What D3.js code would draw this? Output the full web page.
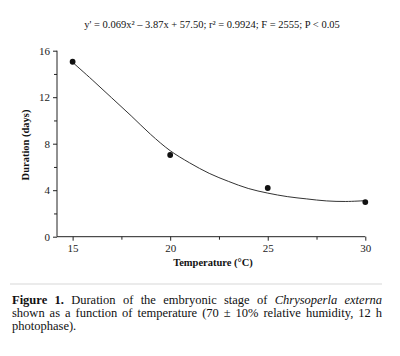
<!DOCTYPE html>
<html><head><meta charset="utf-8">
<script src="https://cdn.jsdelivr.net/npm/d3@7"></script>
<style>
html,body{margin:0;padding:0;background:#fff;}
svg{display:block;}
svg text{font-family:"Liberation Serif","Times New Roman",serif;}
</style></head>
<body>
<svg id="chart" width="400" height="356"></svg>
<script>
// Observed data
const temperatures = [15, 20, 25, 30];
const durations = [15.05, 7.03, 4.19, 2.98];
// Fitted curve
const curveTemps = [15, 16, 17, 18, 19, 20, 21, 22, 23, 24, 25, 26, 27, 28, 29, 30];
const curveValues = [15.0, 13.5, 11.95, 10.4, 8.8, 7.4, 6.35, 5.45, 4.75, 4.15, 3.75, 3.45, 3.25, 3.08, 3.03, 3.1];
const xTicks = [15, 20, 25, 30];
const xMinorTicks = [17.5, 22.5, 27.5];
const yTicks = [0, 4, 8, 12, 16];
const yMinorTicks = [2, 6, 10, 14];
const equationText = "y' = 0.069x\u00B2 \u2013 3.87x + 57.50; r\u00B2 = 0.9924; F = 2555; P < 0.05";
const xLabel = "Temperature (\u00B0C)";
const yLabel = "Duration (days)";

const svg = d3.select("#chart");
const x = d3.scaleLinear().domain([14.2, 30]).range([57, 365.3]);
const y = d3.scaleLinear().domain([0, 16]).range([236.7, 50.7]);

// equation
svg.append("text").attr("x", 212).attr("y", 27.5).attr("text-anchor", "middle")
  .attr("font-size", 10.5).attr("fill", "#111").text(equationText);

// axes
const gx = svg.append("g").attr("transform", `translate(0,${y(0)})`);
gx.call(d3.axisBottom(x).tickValues(xTicks).tickSize(4).tickPadding(4).tickFormat(d3.format("d")));
gx.append("g").call(d3.axisBottom(x).tickValues(xMinorTicks).tickSize(3).tickFormat(""))
  .select(".domain").remove();
const gy = svg.append("g").attr("transform", `translate(${x.range()[0]},0)`);
gy.call(d3.axisLeft(y).tickValues(yTicks).tickSize(4).tickPadding(3).tickFormat(d3.format("d")));
gy.append("g").call(d3.axisLeft(y).tickValues(yMinorTicks).tickSize(3).tickFormat(""))
  .select(".domain").remove();
gx.select(".domain").attr("d", `M${x.range()[0]},0H${x.range()[1]}`);
gy.select(".domain").attr("d", `M0,${y(0)}V${y(16)}`);
svg.selectAll("g").attr("font-family", null);
svg.selectAll(".tick text").style("font-family", "'Liberation Serif', serif").attr("font-size", 11).attr("fill", "#222");
svg.selectAll(".domain, .tick line").attr("stroke", "#222");

// labels
svg.append("text").attr("x", 213).attr("y", 266).attr("text-anchor", "middle")
  .attr("font-size", 10.5).attr("font-weight", "bold").attr("fill", "#111").text(xLabel);
svg.append("text").attr("transform", "translate(28.5,145) rotate(-90)").attr("text-anchor", "middle")
  .attr("font-size", 10.5).attr("font-weight", "bold").attr("fill", "#111").text(yLabel);

// fitted curve
const pts = curveTemps.map((t, i) => [t, curveValues[i]]);
svg.append("path").datum(pts)
  .attr("d", d3.line().x(d => x(d[0])).y(d => y(d[1])).curve(d3.curveCatmullRom))
  .attr("fill", "none").attr("stroke", "#333").attr("stroke-width", 1);

// points
svg.selectAll("circle.pt").data(temperatures).join("circle").attr("class", "pt")
  .attr("cx", d => x(d)).attr("cy", (d, i) => y(durations[i])).attr("r", 2.9).attr("fill", "#111");

// separator
svg.append("line").attr("x1", 10).attr("x2", 382).attr("y1", 284).attr("y2", 284)
  .attr("stroke", "#e4e4e4").attr("stroke-width", 1.5);

// caption (justified)
const capSize = 12.5;
const captionLines = [
  {justify: true, segs: [["Figure 1.", "bold"], ["Duration of the embryonic stage of", "normal"], ["Chrysoperla externa", "italic"]]},
  {justify: true, segs: [["shown as a function of temperature (70 \u00B1 10% relative humidity, 12 h", "normal"]]},
  {justify: false, segs: [["photophase).", "normal"]]}
];
const left = 12, right = 382, baseY = 304, lineH = 13;
captionLines.forEach((ln, li) => {
  const words = [];
  ln.segs.forEach(([t, st]) => t.split(" ").forEach(w => words.push([w, st])));
  const els = words.map(([w, st]) => svg.append("text").attr("y", baseY + li * lineH)
    .attr("font-size", capSize).attr("fill", "#111")
    .attr("font-weight", st === "bold" ? "bold" : null)
    .attr("font-style", st === "italic" ? "italic" : null).text(w));
  const widths = els.map(e => e.node().getComputedTextLength());
  const total = d3.sum(widths);
  const gap = ln.justify && words.length > 1 ? (right - left - total) / (words.length - 1) : capSize * 0.25;
  let cx = left;
  els.forEach((e, i) => { e.attr("x", cx); cx += widths[i] + gap; });
});
</script>
</body></html>
